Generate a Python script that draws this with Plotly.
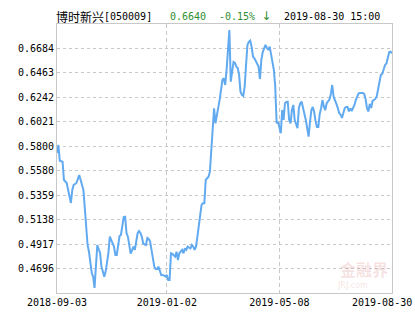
import plotly.graph_objects as go

# Fund NAV per trading day (index 0 = 2018-09-03, index 241 = 2019-08-30)
nav = [
    0.5740, 0.5812, 0.5670, 0.5665, 0.5661, 0.5496, 0.5481, 0.5469, 0.5406, 0.5350,
    0.5288, 0.5406, 0.5451, 0.5460, 0.5469, 0.5505, 0.5541, 0.5496, 0.5450, 0.5406,
    0.5243, 0.5074, 0.4909, 0.4848, 0.4752, 0.4656, 0.4623, 0.4521, 0.4715, 0.4909,
    0.4870, 0.4837, 0.4713, 0.4668, 0.4623, 0.4668, 0.4752, 0.4837, 0.4984, 0.4955,
    0.4927, 0.4894, 0.4819, 0.4819, 0.4905, 0.4990, 0.4999, 0.5074, 0.5162, 0.5165,
    0.5017, 0.4984, 0.4909, 0.4830, 0.4860, 0.4894, 0.4864, 0.4924, 0.5015, 0.5035,
    0.5017, 0.4984, 0.4924, 0.4915, 0.4909, 0.4972, 0.4963, 0.4939, 0.4848, 0.4803,
    0.4713, 0.4692, 0.4692, 0.4713, 0.4683, 0.4638, 0.4638, 0.4629, 0.4625, 0.4638,
    0.4593, 0.4593, 0.4834, 0.4828, 0.4819, 0.4803, 0.4848, 0.4773, 0.4834, 0.4850,
    0.4864, 0.4834, 0.4879, 0.4864, 0.4894, 0.4885, 0.4879, 0.4909, 0.4894, 0.4864,
    0.4894, 0.4985, 0.5074, 0.5165, 0.5270, 0.5286, 0.5286, 0.5496, 0.5511, 0.5526,
    0.5571, 0.5797, 0.6038, 0.6144, 0.6008, 0.6068, 0.6140, 0.6219, 0.6309, 0.6399,
    0.6415, 0.6354, 0.6490, 0.6700, 0.6851, 0.6384, 0.6472, 0.6562, 0.6553, 0.6520,
    0.6508, 0.6445, 0.6294, 0.6264, 0.6255, 0.6339, 0.6535, 0.6716, 0.6743, 0.6754,
    0.6700, 0.6610, 0.6595, 0.6571, 0.6550, 0.6520, 0.6408, 0.6580, 0.6652, 0.6688,
    0.6716, 0.6688, 0.6670, 0.6700, 0.6625, 0.6550, 0.6490, 0.6339, 0.6008, 0.6023,
    0.5978, 0.5918, 0.6128, 0.6038, 0.6189, 0.6201, 0.6203, 0.6038, 0.6008, 0.6128,
    0.6174, 0.6038, 0.6002, 0.5963, 0.6144, 0.6189, 0.6203, 0.6128, 0.6092, 0.6038,
    0.5978, 0.5887, 0.6020, 0.6128, 0.6156, 0.6110, 0.6029, 0.5975, 0.5975, 0.6092,
    0.6144, 0.6219, 0.6158, 0.6128, 0.6189, 0.6210, 0.6223, 0.6273, 0.6354, 0.6246,
    0.6219, 0.6183, 0.6146, 0.6101, 0.6086, 0.6056, 0.6101, 0.6146, 0.6156, 0.6156,
    0.6115, 0.6142, 0.6119, 0.6146, 0.6174, 0.6219, 0.6255, 0.6279, 0.6282, 0.6285,
    0.6282, 0.6273, 0.6228, 0.6146, 0.6115, 0.6183, 0.6146, 0.6210, 0.6219, 0.6228,
    0.6250, 0.6309, 0.6399, 0.6445, 0.6454, 0.6499, 0.6535, 0.6548, 0.6616, 0.6652,
    0.6655, 0.6640,
]
day = list(range(len(nav)))

y_ticks = [0.4696, 0.4917, 0.5138, 0.5359, 0.5580, 0.5800, 0.6021, 0.6242, 0.6463, 0.6684]
y_range = [0.4475, 0.6905]

tick_idx = [0, 79, 160, 241]
tick_dates = ["2018-09-03", "2019-01-02", "2019-05-08", "2019-08-30"]

fund_name = "博时新兴"
fund_code = "[050009]"
last_nav = "0.6640"
change = "-0.15% ↓"
stamp = "2019-08-30 15:00"

MONO = "DejaVu Sans Mono"
CJK = "Noto Sans CJK SC"
GRID = "#c8c8c8"
GREEN = "#2f8f2f"

fig = go.Figure()
fig.add_trace(go.Scatter(
    x=day, y=nav, mode="lines",
    line=dict(color="#62aaf0", width=2),
    hoverinfo="skip", showlegend=False,
))

fig.update_layout(
    width=415, height=330,
    margin=dict(l=57, r=23, t=24, b=37),
    paper_bgcolor="white", plot_bgcolor="white",
    showlegend=False,
)
fig.update_xaxes(
    range=[0, tick_idx[-1]],
    tickmode="array", tickvals=tick_idx[:3], ticktext=tick_dates[:3],
    showgrid=True, gridcolor=GRID, griddash="4px,3px", gridwidth=1,
    showline=True, linecolor=GRID, linewidth=1, mirror=True,
    zeroline=False, ticks="",
    tickfont=dict(family=MONO, size=10, color="black"),
)
fig.update_yaxes(
    range=y_range,
    tickmode="array", tickvals=y_ticks, ticktext=[f"{v:.4f}" for v in y_ticks],
    showgrid=True, gridcolor=GRID, griddash="3px,3px", gridwidth=1,
    showline=True, linecolor=GRID, linewidth=1, mirror=True,
    zeroline=False, ticks="",
    tickfont=dict(family=MONO, size=10, color="black"),
)

# last x tick label (shifted left to stay inside the page)
fig.add_annotation(x=tick_idx[-1], y=0, xref="x", yref="paper",
                   text=tick_dates[-1], showarrow=False,
                   xanchor="center", yanchor="top", xshift=-10, yshift=-2,
                   font=dict(family=MONO, size=10, color="black"))

# header
change_html = change.replace("↓", "<span style='font-family:\"DejaVu Sans\";font-size:12px'>↓</span>")
header = [
    (fund_name, CJK, 12, "black", -3),
    (fund_code, MONO, 10, "black", 45),
    (last_nav, MONO, 10, GREEN, 111),
    (change_html, MONO, 10, GREEN, 160),
    (stamp, MONO, 10, "black", 225),
]
for txt, fam, sz, col, dx in header:
    fig.add_annotation(x=0, y=1, xref="paper", yref="paper", text=txt,
                       showarrow=False, xanchor="left", yanchor="middle",
                       xshift=dx, yshift=8,
                       font=dict(family=fam, size=sz, color=col))

# watermark
fig.add_annotation(x=1, y=0, xref="paper", yref="paper", text="<b>金融界</b>",
                   showarrow=False, xanchor="right", yanchor="bottom",
                   xshift=-2, yshift=10,
                   font=dict(family=CJK, size=16, color="rgba(215,120,120,0.22)"))
fig.add_annotation(x=1, y=0, xref="paper", yref="paper", text="JRJ.com",
                   showarrow=False, xanchor="right", yanchor="bottom",
                   xshift=-22, yshift=1,
                   font=dict(family="DejaVu Sans", size=8, color="rgba(215,120,120,0.22)"))

fig.write_html("out.html")
